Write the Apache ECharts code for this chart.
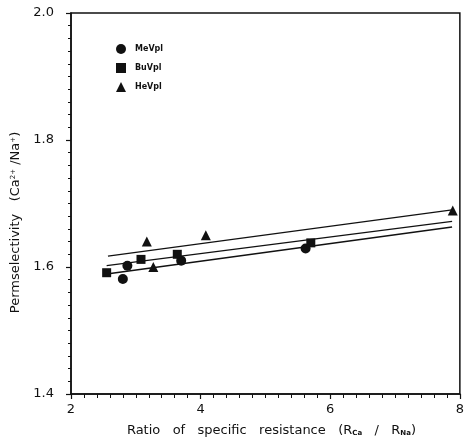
<!DOCTYPE html>
<html>
<head>
<meta charset="utf-8">
<script src="https://cdn.jsdelivr.net/npm/echarts@6/dist/echarts.min.js"></script>
<style>
  html, body { margin: 0; padding: 0; background: #fff; }
  #chart { width: 467px; height: 443px; }
</style>
</head>
<body>
<div id="chart"></div>
<script>
// Measured points for the three polymers
const meX = [2.80, 2.87, 3.70, 5.62];
const meY = [1.581, 1.602, 1.610, 1.629];
const buX = [2.55, 3.08, 3.64, 5.70];
const buY = [1.591, 1.612, 1.620, 1.638];
const heX = [3.17, 3.27, 4.08, 7.89];
const heY = [1.640, 1.600, 1.650, 1.689];

// Regression line end points
const meFitX = [2.55, 7.88];
const meFitY = [1.589, 1.663];
const buFitX = [2.55, 7.88];
const buFitY = [1.602, 1.672];
const heFitX = [2.57, 7.88];
const heFitY = [1.617, 1.690];

const seriesNames = ['MeVpl', 'BuVpl', 'HeVpl'];
const xTicks = [2, 4, 6, 8];
const yTicks = [1.4, 1.6, 1.8, 2.0];

const pairs = (xs, ys) => xs.map((x, i) => [x, ys[i]]);

const font = 'DejaVu Sans';
const ink = '#111';

const chart = echarts.init(document.getElementById('chart'), null, { renderer: 'canvas' });

const fitLine = (name, xs, ys) => ({
  name: name + ' fit',
  type: 'line',
  data: pairs(xs, ys),
  symbol: 'none',
  lineStyle: { color: ink, width: 1.3 },
  silent: true,
  z: 2
});

const scatter = (name, xs, ys, symbol, size) => ({
  name: name,
  type: 'scatter',
  data: pairs(xs, ys),
  symbol: symbol,
  symbolSize: size,
  itemStyle: { color: ink, opacity: 1 },
  z: 3
});

chart.setOption({
  animation: false,
  backgroundColor: '#fff',
  grid: {
    left: 71, right: 7, top: 13, bottom: 49,
    show: true, borderColor: ink, borderWidth: 1.5, backgroundColor: 'transparent'
  },
  legend: {
    data: seriesNames,
    orient: 'vertical',
    left: 111, top: 39,
    itemWidth: 10, itemHeight: 10, itemGap: 9,
    itemStyle: { opacity: 1 },
    textStyle: { fontFamily: font, fontSize: 8, fontWeight: 'bold', color: ink, padding: [-6, 0, 0, 4] }
  },
  xAxis: {
    type: 'value',
    min: 2, max: 8, interval: 2,
    axisLine: { lineStyle: { color: ink, width: 1.5 } },
    axisTick: { show: true, length: 5, lineStyle: { color: ink, width: 1.2 } },
    minorTick: { show: true, splitNumber: 10, length: 4, lineStyle: { color: ink, width: 1 } },
    splitLine: { show: false },
    axisLabel: {
      fontFamily: font, fontSize: 13, color: ink, margin: 9,
      formatter: v => xTicks.includes(v) ? String(v) : ''
    },
    name: '{t|Ratio   of   specific   resistance   (R}{s|Ca}{t|   /   R}{s|Na}{t|)}',
    nameLocation: 'middle',
    nameGap: 30,
    nameTextStyle: {
      padding: [0, 0, 0, 12],
      rich: {
        t: { fontFamily: font, fontSize: 13, color: ink },
        s: { fontFamily: font, fontSize: 7, color: ink, fontWeight: 'bold', verticalAlign: 'bottom', padding: [6, 0, 0, 0] }
      }
    }
  },
  yAxis: {
    type: 'value',
    min: 1.4, max: 2.0, interval: 0.2,
    axisLine: { lineStyle: { color: ink, width: 1.5 } },
    axisTick: { show: true, length: 5, lineStyle: { color: ink, width: 1.2 } },
    minorTick: { show: true, splitNumber: 10, length: 3, lineStyle: { color: ink, width: 1 } },
    splitLine: { show: false },
    axisLabel: {
      fontFamily: font, fontSize: 13, color: ink, margin: 17,
      formatter: v => {
        const hit = yTicks.find(t => Math.abs(t - v) < 1e-6);
        return hit !== undefined ? hit.toFixed(1) : '';
      }
    },
    name: '{t|Permselectivity   (Ca}{p|2+}{t| /Na}{p|+}{t|)}',
    nameLocation: 'middle',
    nameGap: 47,
    nameRotate: 90,
    nameTextStyle: {
      padding: [0, 0, 0, -38],
      rich: {
        t: { fontFamily: font, fontSize: 13, color: ink },
        p: { fontFamily: font, fontSize: 7, color: ink, verticalAlign: 'top', padding: [0, 0, 6, 0] }
      }
    }
  },
  series: [
    fitLine('MeVpl', meFitX, meFitY),
    fitLine('BuVpl', buFitX, buFitY),
    fitLine('HeVpl', heFitX, heFitY),
    scatter('MeVpl', meX, meY, 'circle', 10),
    scatter('BuVpl', buX, buY, 'rect', 9),
    scatter('HeVpl', heX, heY, 'triangle', 10)
  ]
});
</script>
</body>
</html>
